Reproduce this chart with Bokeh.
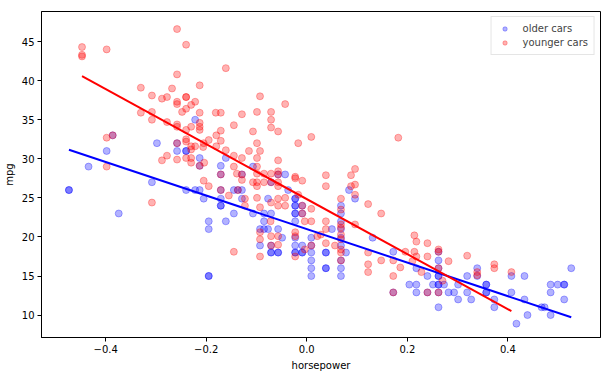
from bokeh.plotting import figure
from bokeh.models import FixedTicker, Range1d, Legend, LegendItem
from bokeh.embed import file_html
from bokeh.resources import INLINE

# ---- data (normalised horsepower, mpg) ----
older_hp = [
    -0.473, -0.473, -0.434, -0.398, -0.386, -0.374, -0.308, -0.298, -0.258, -0.258,
    -0.240, -0.240, -0.240, -0.222, -0.222, -0.213, -0.213, -0.213, -0.205, -0.195,
    -0.195, -0.195, -0.195, -0.171, -0.171, -0.171, -0.171, -0.171, -0.171, -0.161,
    -0.161, -0.145, -0.145, -0.137, -0.129, -0.129, -0.129, -0.107, -0.107, -0.093,
    -0.093, -0.085, -0.085, -0.085, -0.077, -0.077, -0.071, -0.071, -0.071, -0.071,
    -0.071, -0.057, -0.057, -0.057, -0.057, -0.049, -0.043, -0.037, -0.023, -0.023,
    -0.023, -0.023, -0.023, -0.023, -0.023, -0.023, -0.023, -0.023, -0.023, -0.009,
    -0.009, -0.009, -0.009, -0.009, 0.009, 0.009, 0.009, 0.009, 0.009, 0.009,
    0.038, 0.038, 0.038, 0.038, 0.050, 0.068, 0.068, 0.068, 0.068, 0.068,
    0.068, 0.068, 0.068, 0.068, 0.078, 0.084, 0.096, 0.131, 0.172, 0.172,
    0.204, 0.218, 0.218, 0.218, 0.240, 0.240, 0.251, 0.262, 0.262, 0.262,
    0.262, 0.262, 0.262, 0.262, 0.262, 0.262, 0.273, 0.282, 0.293, 0.301,
    0.301, 0.319, 0.319, 0.327, 0.339, 0.339, 0.357, 0.357, 0.357, 0.357,
    0.373, 0.373, 0.407, 0.407, 0.417, 0.433, 0.433, 0.439, 0.467, 0.473,
    0.485, 0.485, 0.485, 0.499, 0.512, 0.512, 0.512, 0.526,
]
older_mpg = [
    26.0, 26.0, 29.0, 31.0, 33.0, 23.0, 27.0, 32.0, 32.0, 31.0,
    31.0, 31.0, 26.0, 35.0, 26.0, 30.1, 29.1, 26.0, 24.9, 22.0,
    21.0, 15.0, 15.0, 29.1, 28.0, 26.0, 24.9, 24.0, 24.0, 30.1,
    22.0, 26.0, 23.0, 26.0, 28.0, 26.0, 24.9, 29.0, 23.0, 21.0,
    18.9, 23.0, 22.0, 21.0, 24.9, 21.0, 27.0, 23.0, 18.9, 18.0,
    18.0, 28.0, 21.0, 18.0, 18.0, 19.9, 28.0, 26.0, 24.9, 24.9,
    24.0, 24.0, 23.0, 23.0, 22.0, 19.9, 18.9, 18.0, 18.0, 24.0,
    23.0, 18.9, 18.0, 18.0, 19.9, 18.9, 18.0, 17.0, 16.0, 15.0,
    18.0, 18.0, 16.0, 16.0, 21.0, 24.0, 23.0, 22.0, 21.0, 19.9,
    18.9, 17.0, 16.0, 15.0, 18.0, 26.0, 24.9, 19.9, 12.9, 18.1,
    13.9, 16.0, 13.9, 12.9, 15.0, 12.9, 13.9, 18.1, 17.0, 16.0,
    15.0, 15.0, 13.9, 13.9, 12.9, 11.0, 13.9, 12.9, 12.9, 13.9,
    12.0, 15.0, 12.9, 12.0, 16.0, 15.0, 13.9, 13.9, 12.9, 12.9,
    12.0, 11.0, 15.0, 12.9, 8.9, 15.0, 12.0, 10.0, 11.0, 11.0,
    13.9, 12.9, 10.0, 13.9, 13.9, 13.9, 12.0, 16.0,
]

younger_hp = [
    -0.447, -0.447, -0.447, -0.398, -0.398, -0.398, -0.386, -0.330, -0.330, -0.308,
    -0.308, -0.308, -0.308, -0.288, -0.288, -0.278, -0.278, -0.278, -0.268, -0.258,
    -0.258, -0.258, -0.258, -0.258, -0.258, -0.258, -0.258, -0.248, -0.240, -0.240,
    -0.240, -0.240, -0.240, -0.240, -0.240, -0.240, -0.230, -0.230, -0.230, -0.230,
    -0.230, -0.230, -0.222, -0.222, -0.213, -0.213, -0.213, -0.213, -0.213, -0.213,
    -0.206, -0.205, -0.204, -0.205, -0.195, -0.195, -0.181, -0.180, -0.180, -0.171,
    -0.171, -0.171, -0.171, -0.171, -0.161, -0.161, -0.155, -0.145, -0.145, -0.145,
    -0.145, -0.139, -0.137, -0.129, -0.129, -0.129, -0.129, -0.123, -0.123, -0.115,
    -0.107, -0.107, -0.099, -0.099, -0.099, -0.099, -0.099, -0.099, -0.099, -0.099,
    -0.093, -0.093, -0.093, -0.093, -0.093, -0.093, -0.085, -0.085, -0.072, -0.071,
    -0.071, -0.071, -0.071, -0.071, -0.071, -0.071, -0.071, -0.057, -0.057, -0.057,
    -0.057, -0.057, -0.057, -0.057, -0.057, -0.057, -0.057, -0.043, -0.043, -0.043,
    -0.023, -0.023, -0.023, -0.023, -0.023, -0.017, -0.017, -0.009, -0.009, -0.009,
    -0.004, -0.004, 0.009, 0.009, 0.009, 0.009, 0.021, 0.028, 0.038, 0.038,
    0.038, 0.038, 0.038, 0.056, 0.068, 0.068, 0.068, 0.068, 0.068, 0.068,
    0.068, 0.068, 0.068, 0.088, 0.088, 0.096, 0.096, 0.096, 0.096, 0.122,
    0.122, 0.122, 0.122, 0.148, 0.148, 0.172, 0.172, 0.172, 0.182, 0.186,
    0.196, 0.210, 0.214, 0.214, 0.218, 0.218, 0.228, 0.240, 0.240, 0.240,
    0.262, 0.262, 0.262, 0.262, 0.270, 0.282, 0.319, 0.339, 0.339, 0.373,
    0.373, 0.407,
]
younger_mpg = [
    44.3, 43.3, 43.1, 44.0, 32.7, 29.0, 33.0, 39.1, 35.9, 38.1,
    36.0, 35.0, 24.4, 37.7, 29.8, 37.9, 34.7, 30.4, 39.0, 46.6,
    40.8, 37.3, 37.0, 34.4, 34.1, 32.0, 29.9, 36.0, 44.6, 37.9,
    37.9, 36.4, 33.7, 32.5, 32.2, 30.1, 36.9, 34.1, 31.6, 31.2,
    30.1, 29.5, 37.3, 31.6, 39.4, 35.9, 34.6, 34.1, 33.7, 29.1,
    31.5, 32.0, 29.5, 27.2, 32.4, 26.5, 35.9, 33.0, 31.6, 35.9,
    33.6, 32.3, 28.0, 26.0, 41.6, 31.1, 25.3, 34.3, 30.4, 29.0,
    18.1, 28.1, 26.0, 35.7, 30.1, 28.0, 27.3, 24.9, 24.0, 31.0,
    33.5, 27.0, 36.0, 32.0, 30.1, 29.0, 28.1, 27.0, 26.5, 25.0,
    38.0, 31.0, 23.8, 20.6, 19.7, 17.5, 28.1, 27.0, 22.0, 36.0,
    35.0, 34.0, 28.1, 27.0, 24.4, 20.1, 18.9, 33.5, 29.8, 28.4,
    28.0, 27.0, 26.5, 24.9, 24.0, 20.1, 19.0, 37.0, 25.0, 24.0,
    27.7, 27.5, 20.6, 20.1, 17.5, 32.0, 25.4, 27.2, 24.0, 23.0,
    22.0, 18.4, 32.8, 23.6, 22.0, 18.9, 20.1, 20.3, 27.9, 26.5,
    22.0, 21.0, 19.2, 18.9, 24.9, 23.5, 21.6, 21.2, 20.3, 19.7,
    18.4, 18.0, 17.0, 27.9, 26.5, 28.7, 26.7, 25.4, 21.6, 24.2,
    18.0, 16.5, 15.5, 23.0, 17.0, 17.0, 15.0, 12.9, 32.7, 16.1,
    18.1, 16.9, 20.2, 18.1, 19.4, 17.5, 15.5, 19.2, 17.5, 12.9,
    18.4, 18.1, 16.0, 12.9, 14.4, 16.9, 17.6, 15.5, 15.1, 16.5,
    16.0, 15.5,
]

# fitted regression lines (slope, intercept)
older_fit = (-21.47, 21.01)
younger_fit = (-35.2, 24.84)

x_ticks = [-0.4, -0.2, 0.0, 0.2, 0.4]
x_tick_labels = ["\u22120.4", "\u22120.2", "0.0", "0.2", "0.4"]
y_ticks = [10, 15, 20, 25, 30, 35, 40, 45]

FONT = "DejaVu Sans"

p = figure(width=609, height=375, output_backend="svg", toolbar_location=None,
           x_range=Range1d(-0.5276, 0.5842), y_range=Range1d(7.13, 48.85),
           min_border_left=41, min_border_right=9, min_border_top=11, min_border_bottom=38)
p.background_fill_color = "white"
p.border_fill_color = "white"
p.outline_line_color = "black"
p.outline_line_width = 1
p.xgrid.visible = False
p.ygrid.visible = False

r_old = p.scatter(older_hp, older_mpg, size=7, marker="circle",
                  fill_color="blue", fill_alpha=0.3, line_color="blue", line_alpha=0.3, line_width=1)
r_young = p.scatter(younger_hp, younger_mpg, size=7, marker="circle",
                    fill_color="red", fill_alpha=0.3, line_color="red", line_alpha=0.3, line_width=1)

ox = [min(older_hp), max(older_hp)]
yx = [min(younger_hp), max(younger_hp)]
p.line(ox, [older_fit[0] * v + older_fit[1] for v in ox], line_color="blue", line_width=2)
p.line(yx, [younger_fit[0] * v + younger_fit[1] for v in yx], line_color="red", line_width=2)

p.xaxis.ticker = FixedTicker(ticks=x_ticks)
p.xaxis.major_label_overrides = {t: l for t, l in zip(x_ticks, x_tick_labels)}
p.yaxis.ticker = FixedTicker(ticks=y_ticks)
p.xaxis.axis_label = "horsepower"
p.yaxis.axis_label = "mpg"
for ax in (p.xaxis, p.yaxis):
    ax.axis_label_text_font = FONT
    ax.axis_label_text_font_size = "10px"
    ax.axis_label_text_font_style = "normal"
    ax.axis_label_text_color = "black"
    ax.major_label_text_font = FONT
    ax.major_label_text_font_size = "10px"
    ax.major_label_text_color = "black"
    ax.major_tick_out = 4
    ax.major_tick_in = 0
    ax.minor_tick_out = 0
    ax.minor_tick_in = 0
    ax.major_tick_line_color = "black"
    ax.axis_line_color = "black"
    ax.major_label_standoff = 3
    ax.axis_label_standoff = 4

legend = Legend(items=[LegendItem(label="older cars", renderers=[r_old]),
                       LegendItem(label="younger cars", renderers=[r_young])],
                location="top_right")
legend.margin = 5
legend.padding = 6
legend.spacing = 3
legend.glyph_width = 14
legend.glyph_height = 11
legend.label_height = 11
legend.label_standoff = 11
legend.label_text_font = FONT
legend.label_text_font_size = "10px"
legend.border_line_color = "#cccccc"
legend.border_line_width = 1
legend.background_fill_alpha = 0.8
p.add_layout(legend)

open("out.html", "w").write(file_html(p, INLINE))
